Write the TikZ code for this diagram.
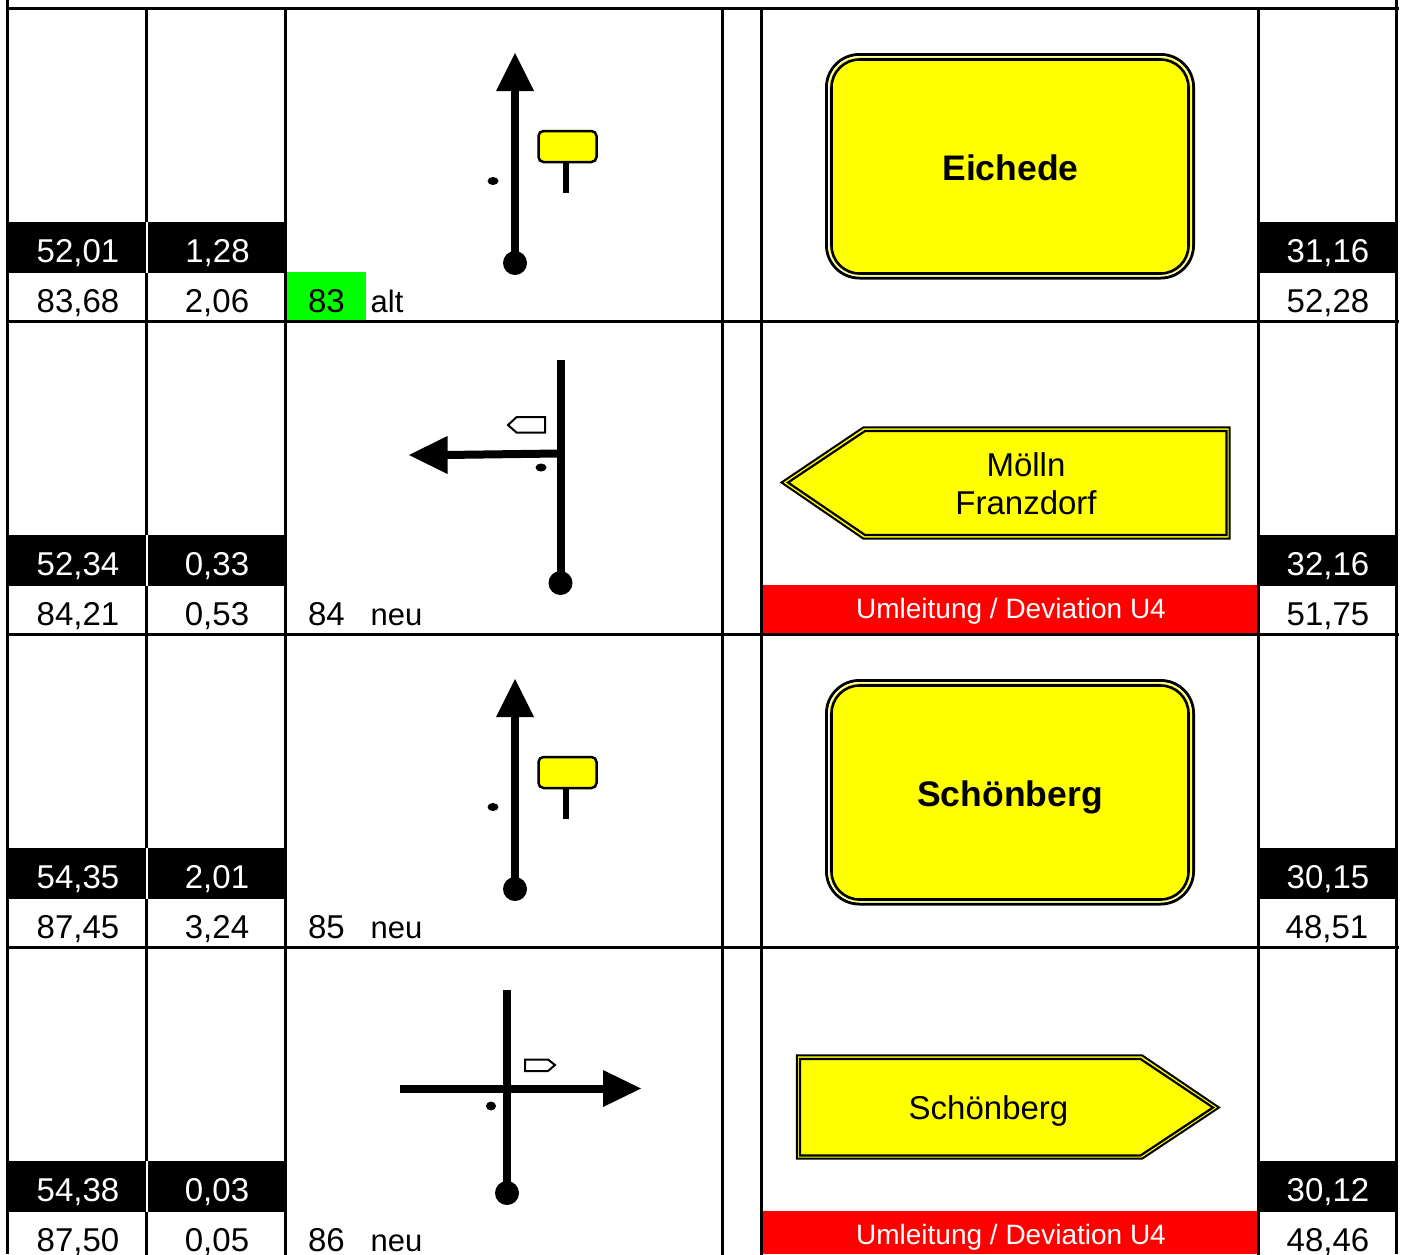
\documentclass[tikz,border=0pt]{standalone}
\usepackage{fontspec}
\setmainfont{Liberation Sans}
\definecolor{signyellow}{RGB}{255,255,0}
\definecolor{tagred}{RGB}{255,0,0}
\definecolor{taggreen}{RGB}{0,255,0}
\tikzset{
 grid/.style={line width=3pt,black},
 band/.style={fill=black,draw=none},
 val/.style={font=\fontsize{33}{38}\selectfont,inner sep=0pt,anchor=base},
 wval/.style={val,text=white},
 lab/.style={font=\fontsize{31}{36}\selectfont,inner sep=0pt,anchor=base west},
 signb/.style={font=\bfseries\fontsize{35.5}{42}\selectfont,inner sep=0pt,anchor=base},
 signr/.style={font=\fontsize{33}{39}\selectfont,inner sep=0pt,anchor=base},
 redt/.style={font=\fontsize{28}{34}\selectfont,inner sep=0pt,anchor=base,text=white},
 road/.style={line width=8pt,black},
 head/.style={fill=black,draw=none},
 outerl/.style={draw=black,line width=3pt,fill=signyellow},
 innerl/.style={draw=black,line width=2.6pt,fill=signyellow},
 small/.style={draw=black,line width=2pt,fill=white}
}
\newcommand{\placesign}[2]{% y offset, name
 \fill[signyellow,draw=black,line width=2.5pt,rounded corners=5pt] (538.5,131+#1) rectangle (596.5,162+#1);
 \draw[line width=6pt] (566,162+#1) -- (566,193+#1);
 \fill[black] (493,181+#1) ellipse (5.5pt and 4pt);
 \fill[black] (515,263+#1) circle (12pt);
 \draw[road] (515,263+#1) -- (515,88+#1);
 \fill[head] (515,53+#1) -- (534,91+#1) -- (496,91+#1) -- cycle;
 \draw[outerl,rounded corners=33pt] (826.5,54.5+#1) rectangle (1193.5,278+#1);
 \draw[draw=white,line width=1pt,rounded corners=31pt] (828.5,56.5+#1) rectangle (1191.5,276+#1);
 \draw[innerl,rounded corners=28pt] (831.5,59.5+#1) rectangle (1188.5,273.5+#1);
}
\begin{document}
\begin{tikzpicture}[x=1pt,y=-1pt]
\useasboundingbox (0,0) rectangle (1402,1254);
\fill[white] (0,0) rectangle (1402,1254);
\clip (0,0) rectangle (1402,1254);
% coloured cells
\foreach \r in {0,313,626,939}{
 \fill[band] (7,222+\r) rectangle (146,273+\r);
 \fill[band] (148,222+\r) rectangle (285,273+\r);
 \fill[band] (1257,222+\r) rectangle (1396,273+\r);
}
\fill[taggreen] (287,272) rectangle (366,320);
\fill[tagred] (763,585) rectangle (1257,633);
\fill[tagred] (763,1211) rectangle (1257,1254);
% grid
\foreach \x in {146.5,285.5,722.5,761.5,1258.5} \foreach \r in {0,313,626,939} \draw[grid] (\x,\r+8) -- (\x,\r+222);
\foreach \x in {146.5,1258.5} \foreach \r in {0,313,626,939} \draw[grid] (\x,\r+273) -- (\x,\r+321);
\foreach \x in {285.5,722.5,761.5} \foreach \r in {0,313,626,939} \draw[grid] (\x,\r+222) -- (\x,\r+321);
\draw[grid] (7.5,0) -- (7.5,1254);
\draw[grid] (1396.5,0) -- (1396.5,1254);
\foreach \y in {8.5,321.5,634.5,947.5} \draw[grid] (7,\y) -- (1399,\y);
% values
\node[wval] (a1) at (78,262) {52,01};
\node[wval] (b1) at (217.5,262) {1,28};
\node[wval] (c1) at (1328,262) {31,16};
\node[val] (d1) at (78,312) {83,68};
\node[val] (e1) at (217,312) {2,06};
\node[val] (f1) at (1328,312) {52,28};
\node[val] (n1) at (326.5,312) {83};
\node[lab] (l1) at (370.5,312) {alt};
\node[wval] (a2) at (78,575) {52,34};
\node[wval] (b2) at (217,575) {0,33};
\node[wval] (c2) at (1328,575) {32,16};
\node[val] (d2) at (78,625) {84,21};
\node[val] (e2) at (217,625) {0,53};
\node[val] (f2) at (1328,625) {51,75};
\node[val] (n2) at (326.5,625) {84};
\node[lab] (l2) at (370.5,625) {neu};
\node[wval] (a3) at (78,888) {54,35};
\node[wval] (b3) at (217,888) {2,01};
\node[wval] (c3) at (1328,888) {30,15};
\node[val] (d3) at (78,938) {87,45};
\node[val] (e3) at (217,938) {3,24};
\node[val] (f3) at (1327,938) {48,51};
\node[val] (n3) at (326.5,938) {85};
\node[lab] (l3) at (370.5,938) {neu};
\node[wval] (a4) at (78,1201) {54,38};
\node[wval] (b4) at (217,1201) {0,03};
\node[wval] (c4) at (1328,1201) {30,12};
\node[val] (d4) at (78,1251) {87,50};
\node[val] (e4) at (217,1251) {0,05};
\node[val] (f4) at (1328,1251) {48,46};
\node[val] (n4) at (326.5,1251) {86};
\node[lab] (l4) at (370.5,1251) {neu};
% straight-ahead rows with place signs
\placesign{0}{p}
\placesign{626}{q}
\node[signb] (eichede) at (1010.5,180) {Eichede};
\node[signb] (schoen) at (1010,806) {Schönberg};
% row 2 pictogram
\draw[road] (560.5,360) -- (560.5,583);
\fill[black] (560.5,583) circle (12pt);
\draw[road] (558,453.5) -- (445,455);
\fill[head] (409,455) -- (447.5,436) -- (447.5,474) -- cycle;
\fill[black] (541,467.5) ellipse (5.5pt and 4pt);
\draw[small] (508,425) -- (516.7,417) -- (545,417) -- (545,432.7) -- (516.7,432.7) -- cycle;
% row 2 sign
\draw[outerl,line width=2pt] (781.5,482.5) -- (863.5,427.3) -- (1229.7,427.3) -- (1229.7,538.7) -- (863.5,538.7) -- cycle;
\draw[innerl,line width=2.2pt] (788,482.5) -- (865,431) -- (1226.5,431) -- (1226.5,535) -- (865,535) -- cycle;
\node[signr] (moelln) at (1026,476) {Mölln};
\node[signr] (franz) at (1026,514) {Franzdorf};
\node[redt] (red1) at (1011,618) {Umleitung / Deviation U4};
% row 4 pictogram
\draw[road] (507,990) -- (507,1193);
\fill[black] (507,1193) circle (12pt);
\draw[road] (400,1088.5) -- (606,1088.5);
\fill[head] (641,1088.5) -- (603,1070) -- (603,1107) -- cycle;
\fill[black] (491,1106) ellipse (5pt and 4.5pt);
\draw[small] (525,1059.5) -- (548,1059.5) -- (555,1065) -- (548,1071) -- (525,1071) -- cycle;
% row 4 sign
\draw[outerl,line width=2pt] (796.8,1055.3) -- (1142,1055.3) -- (1219,1107.5) -- (1142,1158.7) -- (796.8,1158.7) -- cycle;
\draw[innerl,line width=2.2pt] (800,1059) -- (1140.5,1059) -- (1213,1107.5) -- (1140.5,1155.5) -- (800,1155.5) -- cycle;
\node[signr] (schoen2) at (988.5,1119) {Schönberg};
\node[redt] (red2) at (1011,1244) {Umleitung / Deviation U4};
\end{tikzpicture}
\end{document}
